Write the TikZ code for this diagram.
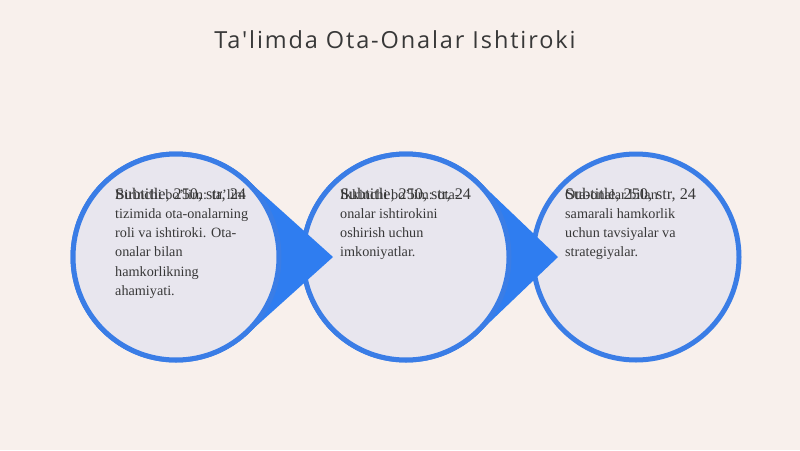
\documentclass[tikz,border=0pt]{standalone}
\usepackage{fontspec}
\usetikzlibrary{calc}
\setmainfont{Liberation Serif}
\newfontfamily\titlefont[LetterSpace=8]{Open Sans}
\definecolor{bgcream}{HTML}{F8F0EC}
\definecolor{ringblue}{HTML}{3A7DE6}
\definecolor{tipblue}{HTML}{2F7DF0}
\definecolor{stagefill}{HTML}{E8E6EE}
\definecolor{inkgray}{HTML}{383838}
\begin{document}
\begin{tikzpicture}[x=1pt,y=-1pt]
 \tikzset{stage/.style={draw=ringblue, line width=5pt, fill=stagefill, circle, minimum size=206pt, inner sep=0pt}}
 \tikzset{pointer/.style={fill=tipblue}}
 \tikzset{body/.style={anchor=north west, inner sep=0pt, align=left, text=inkgray, font=\fontsize{14.2}{19.3}\selectfont}}
 \tikzset{placeholder/.style={anchor=north west, inner sep=0pt, text=inkgray, font=\fontsize{16.2}{19.3}\selectfont}}
  \fill[bgcream] (0,0) rectangle (800,450);
  \useasboundingbox (0,0) rectangle (800,450);
  \node[font=\titlefont\fontsize{23.5}{28}\selectfont, text=inkgray] (title) at (395,40) {Ta'limda Ota-Onalar Ishtiroki};
  \coordinate (tipA) at (333,257);
  \coordinate (tipB) at (558,257);
  % stages, back to front
  \node[stage] (C) at (636,257) {};
  \node[stage] (B) at (406,257) {};
  \fill[pointer] (B.center) -- ($(B.center)+(47:105)$) -- (tipB) -- ($(B.center)+(-47:105)$) -- cycle;
  \node[stage] (B2) at (406,257) {};
  \node[stage] (A) at (176,257) {};
  \fill[pointer] (A.center) -- ($(A.center)+(48:105)$) -- (tipA) -- ($(A.center)+(-48:105)$) -- cycle;
  \node[stage] (A2) at (176,257) {};
  % texts
  \node[placeholder] (subA) at (115,188) {Subtitle, 250, str, 24};
  \node[body] (txtA) at (115,189) {Birinchi bo'lim: ta'lim\\tizimida ota-onalarning\\roli va ishtiroki. Ota-\\onalar bilan\\hamkorlikning\\ahamiyati.};
  \node[placeholder] (subB) at (340,188) {Subtitle, 250, str, 24};
  \node[body] (txtB) at (340,189) {Ikkinchi bo'lim: ota-\\onalar ishtirokini\\oshirish uchun\\imkoniyatlar.};
  \node[placeholder] (subC) at (565,188) {Subtitle, 250, str, 24};
  \node[body] (txtC) at (565,189) {Ota-onalar bilan\\samarali hamkorlik\\uchun tavsiyalar va\\strategiyalar.};
\end{tikzpicture}
\end{document}
